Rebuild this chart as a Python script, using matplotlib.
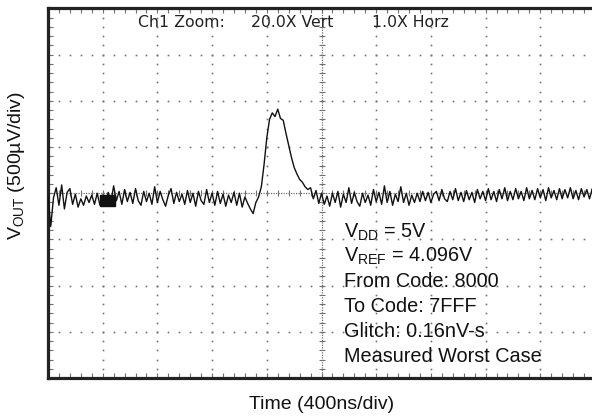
import numpy as np
import matplotlib
matplotlib.use("Agg")
import matplotlib.pyplot as plt
from matplotlib.patches import Rectangle

plt.rcParams['font.family'] = ['Liberation Sans', 'DejaVu Sans']
plt.rcParams['mathtext.fontset'] = 'custom'
plt.rcParams['mathtext.rm'] = 'Liberation Sans'
plt.rcParams['mathtext.it'] = 'Liberation Sans'

# ---- data (screen divisions: x 0..10 at 400 ns/div, y 0..8 at 500 uV/div) ----
sample_step_div = 0.05
vout_div = [
    3.95, 3.28, 3.90, 4.12, 3.74, 4.18, 3.66, 4.02, 4.10, 3.76,
    3.98, 3.70, 3.88, 3.74, 3.94, 3.80, 3.96, 3.76, 4.00, 3.74,
    3.96, 3.72, 4.02, 3.80, 4.16, 3.84, 4.04, 3.76, 4.08, 3.82,
    4.02, 3.78, 4.10, 3.84, 3.74, 4.04, 3.82, 4.00, 3.76, 4.14,
    3.80, 4.04, 3.86, 3.72, 3.96, 4.10, 3.78, 4.02, 3.82, 3.98,
    3.76, 4.06, 3.80, 4.00, 3.72, 4.04, 3.84, 3.76, 4.08, 3.80,
    4.00, 3.74, 4.04, 3.78, 3.98, 3.72, 3.96, 3.80, 4.02, 3.74,
    4.00, 3.70, 3.92, 3.78, 3.66, 3.56, 3.80, 3.92, 4.14, 4.62,
    5.20, 5.60, 5.74, 5.66, 5.82, 5.62, 5.58, 5.30, 5.04, 4.78,
    4.56, 4.42, 4.30, 4.24, 4.14, 4.08, 4.12, 3.88, 4.06, 3.78,
    4.00, 3.76, 3.94, 3.72, 4.00, 3.80, 4.04, 3.70, 3.98, 3.80,
    4.12, 3.78, 4.02, 3.82, 3.72, 4.00, 3.80, 3.96, 3.74, 4.08,
    3.82, 4.02, 3.76, 4.16, 3.80, 4.04, 3.74, 3.98, 3.82, 4.14,
    3.80, 4.00, 3.74, 3.96, 3.80, 4.00, 3.82, 4.04, 3.84, 4.02,
    3.80, 3.98, 4.04, 3.84, 4.08, 3.88, 3.82, 4.04, 3.86, 4.10,
    3.84, 4.02, 3.82, 4.06, 3.86, 4.02, 3.80, 4.08, 3.88, 4.04,
    3.84, 4.10, 3.86, 4.04, 3.82, 4.08, 3.88, 4.12, 3.84, 4.04,
    3.86, 4.10, 3.88, 4.04, 3.84, 4.12, 3.88, 4.06, 3.86, 4.10,
    3.90, 4.08, 3.84, 4.12, 3.90, 4.06, 3.86, 4.10, 3.88, 4.08,
    3.90, 4.12, 3.88, 4.06, 3.86, 4.10, 3.92, 4.08, 3.88, 4.10,
    3.96,
]
n_xdiv = 10
n_ydiv = 8
header_texts = ["Ch1 Zoom:", "20.0X Vert", "1.0X Horz"]
note_lines = [r"V$_{\mathrm{DD}}$ = 5V", r"V$_{\mathrm{REF}}$ = 4.096V",
              "From Code: 8000", "To Code: 7FFF", "Glitch: 0.16nV-s",
              "Measured Worst Case"]
xlabel = "Time (400ns/div)"
ylabel = r"V$_{\mathrm{OUT}}$ (500µV/div)"

t_div = np.arange(len(vout_div)) * sample_step_div

W, H = 592, 418
fig = plt.figure(figsize=(W / 100, H / 100), dpi=100)
ax = fig.add_axes([48 / W, 1 - 378 / H, 547 / W, 369.5 / H])
ax.set_xlim(0, n_xdiv)
ax.set_ylim(0, n_ydiv)
ax.set_xticks([])
ax.set_yticks([])
for s in ['left', 'top', 'bottom', 'right']:
    ax.spines[s].set_linewidth(2.3)
    ax.spines[s].set_color('#222222')

grid_c = '#707070'
minor = np.arange(0, n_xdiv + 1e-9, 0.2)
minor_y = np.arange(0, n_ydiv + 1e-9, 0.2)
# dotted major graticule lines
for gx in range(1, n_xdiv):
    if gx == n_xdiv // 2:
        continue
    ax.plot(np.full_like(minor_y, gx), minor_y, ls='none', marker='s', ms=1.2,
            mew=0, color=grid_c, zorder=1)
for gy in range(1, n_ydiv):
    if gy == n_ydiv // 2:
        continue
    ax.plot(minor, np.full_like(minor, gy), ls='none', marker='s', ms=1.2,
            mew=0, color=grid_c, zorder=1)
# center lines with tick marks
cx, cy = n_xdiv / 2, n_ydiv / 2
ax.plot([cx, cx], [0, n_ydiv], ls=(0, (1, 1)), lw=0.9, color=grid_c, zorder=1)
ax.plot(np.full_like(minor_y, cx), minor_y, ls='none', marker='_', ms=4.5,
        mew=0.8, color=grid_c, zorder=1)
ax.plot([0, n_xdiv], [cy, cy], ls=(0, (1, 1)), lw=0.9, color=grid_c, zorder=1)
ax.plot(minor, np.full_like(minor, cy), ls='none', marker='|', ms=4,
        mew=0.8, color=grid_c, zorder=1)
# edge ticks
ax.plot(minor, np.full_like(minor, n_ydiv - 0.06), ls='none', marker='|', ms=3,
        mew=0.8, color=grid_c, zorder=1)
ax.plot(minor, np.full_like(minor, 0.06), ls='none', marker='|', ms=3,
        mew=0.8, color=grid_c, zorder=1)
ax.plot(np.full_like(minor_y, 0.06), minor_y, ls='none', marker='_', ms=3,
        mew=0.8, color=grid_c, zorder=1)

# trace
ax.plot(t_div, vout_div, color='#111111', lw=1.0, zorder=3)
# channel marker
ax.add_patch(Rectangle((0.95, 3.72), 0.27, 0.25, color='#111111', zorder=4))

# header
hx = [137.7, 250.7, 371.7]
for txt, px in zip(header_texts, hx):
    ax.text((px - 48) / 547, (378 - 26.7) / 369.5, txt, transform=ax.transAxes,
            family='DejaVu Sans', fontsize=11.3, va='baseline', ha='left',
            color='#222222')

# annotation
baselines = [238, 261.7, 287.3, 311.7, 336.7, 361.7]
for txt, by in zip(note_lines, baselines):
    ax.text((344.3 - 48) / 547, (378 - by) / 369.5, txt, transform=ax.transAxes,
            fontsize=14.3, va='baseline', ha='left', color='#111111')

fig.text(321.7 / W, 1 - 409 / H, xlabel, fontsize=14, ha='center', va='baseline',
         color='#111111')
fig.text(17 / W, 1 - 166 / H, ylabel, fontsize=14, ha='center', va='center',
         rotation=90, color='#111111')

fig.savefig('out.png', dpi=100)
